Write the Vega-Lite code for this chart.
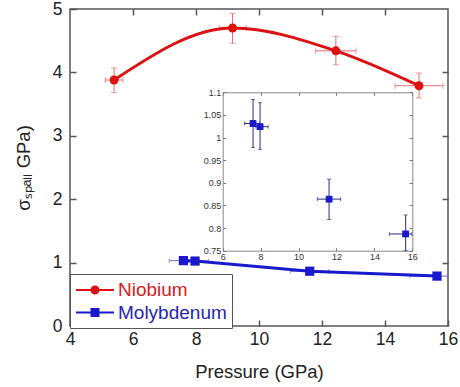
{
  "$schema": "https://vega.github.io/schema/vega-lite/v6.json",
  "width": 378,
  "height": 317,
  "autosize": "none",
  "padding": {"left": 70, "top": 9, "right": 12, "bottom": 61},
  "background": "white",
  "config": {
    "font": "Liberation Sans",
    "view": {"stroke": "#555", "strokeWidth": 1.5},
    "axis": {"grid": false, "labelFlush": false, "labelOverlap": false, "titleFontWeight": "normal"}
  },
  "datasets": {
    "nb": [
      {"m": "Niobium", "p": 5.4, "s": 3.88, "plo": 5.12, "phi": 5.68, "slo": 3.68, "shi": 4.07},
      {"m": "Niobium", "p": 9.16, "s": 4.70, "plo": 8.75, "phi": 9.6, "slo": 4.46, "shi": 4.93},
      {"m": "Niobium", "p": 12.44, "s": 4.34, "plo": 11.8, "phi": 13.08, "slo": 4.12, "shi": 4.57},
      {"m": "Niobium", "p": 15.08, "s": 3.79, "plo": 14.32, "phi": 15.84, "slo": 3.60, "shi": 3.99}
    ],
    "mo": [
      {"m": "Molybdenum", "p": 7.6, "s": 1.031, "plo": 7.15, "phi": 7.95, "slo": 0.978, "shi": 1.084},
      {"m": "Molybdenum", "p": 7.97, "s": 1.024, "plo": 7.75, "phi": 8.4, "slo": 0.974, "shi": 1.077},
      {"m": "Molybdenum", "p": 11.61, "s": 0.864, "plo": 10.99, "phi": 12.22, "slo": 0.819, "shi": 0.908},
      {"m": "Molybdenum", "p": 15.65, "s": 0.787, "plo": 14.79, "phi": 15.98, "slo": 0.75, "shi": 0.829}
    ]
  },
  "layer": [
    {
      "layer": [
        {
          "data": {"name": "nb"},
          "mark": {"type": "errorbar", "ticks": {"size": 6}, "thickness": 1, "color": "#e07070"},
          "encoding": {
            "x": {"field": "plo", "type": "quantitative", "axis": null},
            "x2": {"field": "phi"},
            "y": {"field": "s", "type": "quantitative", "axis": null}
          }
        },
        {
          "data": {"name": "nb"},
          "mark": {"type": "errorbar", "ticks": {"size": 6}, "thickness": 1, "color": "#e07070"},
          "encoding": {
            "x": {"field": "p", "type": "quantitative", "axis": null},
            "y": {"field": "slo", "type": "quantitative", "axis": null},
            "y2": {"field": "shi"}
          }
        },
        {
          "data": {"name": "mo"},
          "mark": {"type": "errorbar", "ticks": {"size": 5}, "thickness": 1, "color": "#7070d0"},
          "encoding": {
            "x": {"field": "plo", "type": "quantitative", "axis": null},
            "x2": {"field": "phi"},
            "y": {"field": "s", "type": "quantitative", "axis": null}
          }
        },
        {
          "data": {"name": "nb"},
          "mark": {"type": "line", "interpolate": "monotone", "color": "#dd1111", "strokeWidth": 3},
          "encoding": {
            "x": {"field": "p", "type": "quantitative", "axis": null},
            "y": {"field": "s", "type": "quantitative", "axis": null}
          }
        },
        {
          "data": {"name": "mo"},
          "mark": {"type": "line", "color": "#1a1acc", "strokeWidth": 3},
          "encoding": {
            "x": {"field": "p", "type": "quantitative", "axis": null},
            "y": {"field": "s", "type": "quantitative", "axis": null}
          }
        },
        {
          "data": {"name": "nb"},
          "mark": {"type": "circle", "size": 80, "opacity": 1},
          "encoding": {
            "x": {
              "field": "p", "type": "quantitative",
              "scale": {"domain": [4, 16], "nice": false, "zero": false},
              "axis": {
                "orient": "bottom", "values": [4, 6, 8, 10, 12, 14, 16],
                "title": "Pressure (GPa)", "titleFontSize": 18.5, "titleColor": "#222", "titlePadding": 15,
                "labelFontSize": 17.5, "labelColor": "#222", "labelPadding": 10,
                "tickSize": -6, "tickColor": "#555", "tickWidth": 1.5, "domain": false
              }
            },
            "y": {
              "field": "s", "type": "quantitative",
              "scale": {"domain": [0, 5], "nice": false, "zero": false},
              "axis": {
                "orient": "left", "values": [0, 1, 2, 3, 4, 5],
                "title": "σₛₚₐₗₗ GPa)", "titleFontSize": 18.5, "titleColor": "#222", "titlePadding": 19,
                "labelFontSize": 17.5, "labelColor": "#222", "labelPadding": 14,
                "tickSize": -6, "tickColor": "#555", "tickWidth": 1.5, "domain": false
              }
            },
            "color": {
              "field": "m", "type": "nominal",
              "scale": {"domain": ["Niobium", "Molybdenum"], "range": ["#dd1111", "#1a1acc"]},
              "legend": {
                "orient": "none", "legendX": 0, "legendY": 265, "title": null, "direction": "vertical",
                "strokeColor": "#555", "fillColor": "white", "padding": 5,
                "labelFontSize": 19, "labelOffset": 21, "symbolSize": 400, "symbolStrokeWidth": 2, "rowPadding": 1.5,
                "symbolType": {"expr": "datum.value === 'Niobium' ? 'M-1,0H2.8M0.55,0A0.35,0.35,0,1,1,1.25,0A0.35,0.35,0,1,1,0.55,0Z' : 'M-1,0H2.8M0.55,-0.35H1.25V0.35H0.55Z'"},
                "symbolStrokeColor": {"expr": "datum.value === 'Niobium' ? '#dd1111' : '#1a1acc'"},
                "labelColor": {"expr": "datum.value === 'Niobium' ? '#d42020' : '#2525b0'"}
              }
            }
          }
        },
        {
          "data": {"name": "mo"},
          "mark": {"type": "square", "size": 85, "opacity": 1, "color": "#1a1acc"},
          "encoding": {
            "x": {
              "field": "p", "type": "quantitative",
              "axis": {"orient": "top", "values": [6, 8, 10, 12, 14], "labels": false, "title": null, "tickSize": -6, "tickColor": "#555", "tickWidth": 1.5, "domain": false}
            },
            "y": {
              "field": "s", "type": "quantitative",
              "axis": {"orient": "right", "values": [1, 2, 3, 4], "labels": false, "title": null, "tickSize": -6, "tickColor": "#555", "tickWidth": 1.5, "domain": false}
            }
          }
        }
      ]
    },
    {
      "layer": [
        {
          "data": {"name": "mo"},
          "mark": {"type": "errorbar", "ticks": {"size": 4}, "thickness": 1, "color": "#2a2a8a"},
          "encoding": {
            "x": {"field": "plo", "type": "quantitative", "axis": null},
            "x2": {"field": "phi"},
            "y": {"field": "s", "type": "quantitative", "axis": null}
          }
        },
        {
          "data": {"name": "mo"},
          "mark": {"type": "errorbar", "ticks": {"size": 4}, "thickness": 1, "color": "#2a2a8a"},
          "encoding": {
            "x": {"field": "p", "type": "quantitative", "axis": null},
            "y": {"field": "slo", "type": "quantitative", "axis": null},
            "y2": {"field": "shi"}
          }
        },
        {
          "data": {"name": "mo"},
          "mark": {"type": "square", "size": 42, "opacity": 1, "color": "#1a1acc"},
          "encoding": {
            "x": {
              "field": "p", "type": "quantitative",
              "scale": {"domain": [6, 16], "range": [152.7, 342.3], "nice": false, "zero": false},
              "axis": {
                "orient": "bottom", "offset": -75.3, "values": [6, 8, 10, 12, 14, 16], "title": null,
                "labelFontSize": 9, "labelColor": "#333", "labelPadding": 5,
                "tickSize": -3, "tickColor": "#777", "domainColor": "#888", "domainWidth": 1
              }
            },
            "y": {
              "field": "s", "type": "quantitative",
              "scale": {"domain": [0.75, 1.1], "range": [241.7, 83.3], "nice": false, "zero": false},
              "axis": {
                "orient": "left", "offset": -152.7, "values": [0.75, 0.8, 0.85, 0.9, 0.95, 1, 1.05, 1.1], "format": "~g", "title": null,
                "labelFontSize": 9, "labelColor": "#333", "labelPadding": 5,
                "tickSize": -3, "tickColor": "#777", "domainColor": "#888", "domainWidth": 1
              }
            }
          }
        },
        {
          "data": {"name": "mo"},
          "mark": {"type": "square", "size": 42, "opacity": 1, "color": "#1a1acc"},
          "encoding": {
            "x": {
              "field": "p", "type": "quantitative",
              "axis": {"orient": "top", "offset": -83.3, "values": [6, 8, 10, 12, 14, 16], "labels": false, "title": null, "tickSize": -3, "tickColor": "#777", "domainColor": "#888", "domainWidth": 1}
            },
            "y": {
              "field": "s", "type": "quantitative",
              "axis": {"orient": "right", "offset": -35.7, "values": [0.75, 0.8, 0.85, 0.9, 0.95, 1, 1.05, 1.1], "labels": false, "title": null, "tickSize": -3, "tickColor": "#777", "domainColor": "#888", "domainWidth": 1}
            }
          }
        }
      ]
    }
  ],
  "resolve": {"scale": {"x": "independent", "y": "independent"}}
}
